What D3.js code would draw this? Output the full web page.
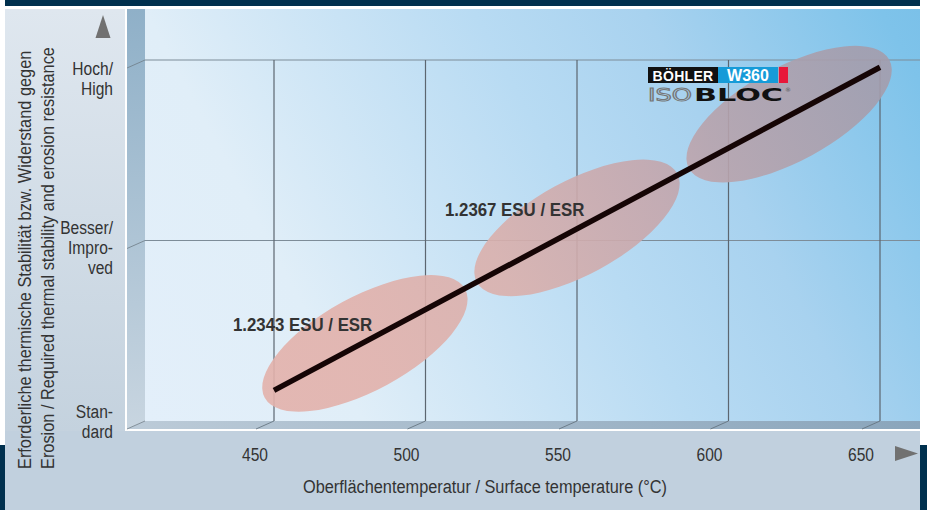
<!DOCTYPE html>
<html><head><meta charset="utf-8">
<script src="https://cdn.jsdelivr.net/npm/d3@7"></script>
<style>
body{margin:0;background:#fff;}
svg{display:block;}
</style></head>
<body>
<svg id="chart" width="927" height="510"></svg>
<script>
// ---------- data ----------
const xTicks = [450, 500, 550, 600, 650];
const yLevels = [0, 1, 2];
const yTickLabels = [["Stan-", "dard"], ["Besser/", "Impro-", "ved"], ["Hoch/", "High"]];
const grades = ["1.2343 ESU / ESR", "1.2367 ESU / ESR", "BÖHLER W360 ISOBLOC"];
const gradeTemp = [480, 550, 620];
const gradeLevel = [0.43, 1.07, 1.70];
const lineTemp = [450, 650];
const lineLevel = [0.17, 1.96];
const xTitle = "Oberflächentemperatur / Surface temperature (°C)";
const yTitle = ["Erforderliche thermische Stabilität bzw. Widerstand gegen",
                "Erosion / Required thermal stability and erosion resistance"];

// ---------- layout ----------
const svg = d3.select("#chart");
const wall = {x0: 145, x1: 920, y0: 9, y1: 421};
const depth = {dx: -18, dy: 8};
const x = d3.scaleLinear().domain([450, 650]).range([274, 880]);
const y = d3.scaleLinear().domain([0, 2]).range([421, 60]);
const navy = "#00304e";
const FONT = "'Liberation Sans', Arial, sans-serif";

function grad(id, stops, attrs) {
  const g = defs.append("linearGradient").attr("id", id);
  Object.entries(attrs).forEach(([k, v]) => g.attr(k, v));
  stops.forEach(s => g.append("stop").attr("offset", s[0]).attr("stop-color", s[1]));
}
function cText(parent, px, py, str, anchor, rot, sx) {
  return parent.append("text")
    .attr("transform", `translate(${px},${py})${rot ? ` rotate(${rot})` : ""} scale(${sx || 0.82},1)`)
    .attr("text-anchor", anchor || "start").attr("font-family", FONT)
    .attr("font-size", 19).attr("fill", "#333").text(str);
}
function ellipsePath(cx, cy, a, b, deg) {
  const r = deg * Math.PI / 180, ux = a * Math.cos(r), uy = a * Math.sin(r);
  return `M${cx - ux},${cy - uy}A${a},${b} ${deg} 1 0 ${cx + ux},${cy + uy}A${a},${b} ${deg} 1 0 ${cx - ux},${cy - uy}Z`;
}

const defs = svg.append("defs");
const diag = {gradientUnits: "userSpaceOnUse", x1: wall.x0, y1: wall.y1, x2: wall.x1, y2: wall.y0};
grad("gWall", [[0, "#e3effa"], [0.22, "#e0eef8"], [0.55, "#b8dbf3"], [0.72, "#a8d2ef"], [0.96, "#7ec3ea"], [1, "#7bc1e9"]], diag);
grad("gEll", [[0, "#e4b2ab"], [0.26, "#e2b1ab"], [0.44, "#dab0ac"], [0.64, "#c5a7ad"], [0.72, "#b8a3ac"], [0.91, "#a59dac"], [1, "#a29cac"]], diag);
grad("gLeft", [[0, "#dfe7ef"], [1, "#bfcedb"]], {x1: 0, y1: 0, x2: 0, y2: 1});
grad("gSide", [[0, "#8fb0c8"], [1, "#c8d5e0"]], {x1: 0, y1: 0, x2: 0, y2: 1});
grad("gFloor", [[0, "#bccbd8"], [1, "#8aa5bb"]], {x1: 0, y1: 0, x2: 1, y2: 0});

// frame panels
svg.append("rect").attr("x", 5).attr("y", 0).attr("width", 915).attr("height", 6).attr("fill", navy);
svg.append("rect").attr("x", 5).attr("y", 9).attr("width", 120).attr("height", 501).attr("fill", "url(#gLeft)");
svg.append("rect").attr("x", 5).attr("y", 431).attr("width", 915).attr("height", 79).attr("fill", "#c1d0de");
svg.append("rect").attr("x", 0).attr("y", 445).attr("width", 5).attr("height", 65).attr("fill", navy);
svg.append("rect").attr("x", 920).attr("y", 445).attr("width", 7).attr("height", 65).attr("fill", navy);

// walls
svg.append("rect").attr("x", wall.x0).attr("y", wall.y0).attr("width", wall.x1 - wall.x0).attr("height", wall.y1 - wall.y0).attr("fill", "url(#gWall)");
svg.append("polygon").attr("points", [[wall.x0 + depth.dx, wall.y0], [wall.x0, wall.y0], [wall.x0, wall.y1], [wall.x0 + depth.dx, wall.y1 + depth.dy]].join(" ")).attr("fill", "url(#gSide)");
svg.append("polygon").attr("points", [[wall.x0, wall.y1], [wall.x1, wall.y1], [wall.x1, wall.y1 + depth.dy], [wall.x0 + depth.dx, wall.y1 + depth.dy]].join(" ")).attr("fill", "url(#gFloor)");

// grid
const grid = svg.append("g");
yLevels.filter(v => v > 0).forEach(v => {
  grid.append("line").attr("x1", wall.x0).attr("x2", wall.x1).attr("y1", y(v)).attr("y2", y(v)).attr("stroke", "#7d8c98").attr("stroke-width", 1);
  grid.append("line").attr("x1", wall.x0).attr("x2", wall.x0 + depth.dx).attr("y1", y(v)).attr("y2", y(v) + depth.dy).attr("stroke", "#6f7c86").attr("stroke-width", 0.8);
});
grid.append("line").attr("x1", wall.x0).attr("x2", wall.x0 + depth.dx).attr("y1", wall.y1).attr("y2", wall.y1 + depth.dy).attr("stroke", "#6f7c86").attr("stroke-width", 0.8);
xTicks.forEach(t => {
  grid.append("line").attr("x1", x(t)).attr("x2", x(t)).attr("y1", y(2)).attr("y2", wall.y1).attr("stroke", "#5c6670").attr("stroke-width", 1.2);
  grid.append("line").attr("x1", x(t)).attr("x2", x(t) + depth.dx).attr("y1", wall.y1).attr("y2", wall.y1 + depth.dy).attr("stroke", "#5f6e7a").attr("stroke-width", 0.8);
});

// ellipses
svg.append("g").selectAll("path").data(grades).join("path")
  .attr("d", (d, i) => ellipsePath(x(gradeTemp[i]), y(gradeLevel[i]), 114, 47, -28.5))
  .attr("fill", "url(#gEll)").attr("opacity", 0.9);

// trend line
svg.append("path")
  .attr("d", d3.line().x(d => x(d[0])).y(d => y(d[1]))(lineTemp.map((t, i) => [t, lineLevel[i]])))
  .attr("stroke", "#150505").attr("stroke-width", 5.5).attr("fill", "none");

// grade labels
svg.append("g").selectAll("text").data(grades.slice(0, 2)).join("text")
  .attr("transform", (d, i) => `translate(${x(gradeTemp[i]) - 132},${y(gradeLevel[i]) - 12}) scale(0.91,1)`)
  .attr("font-family", FONT).attr("font-weight", "bold")
  .attr("font-size", 18.5).attr("fill", "#333").text(d => d);

// logo for third grade
const logo = svg.append("g").attr("transform", "translate(648,67)");
logo.append("rect").attr("x", 0).attr("y", 0).attr("width", 70).attr("height", 16).attr("fill", "#111");
logo.append("rect").attr("x", 70).attr("y", 0).attr("width", 60).attr("height", 16).attr("fill", "#169bd8");
logo.append("rect").attr("x", 131).attr("y", 0).attr("width", 9).attr("height", 16).attr("fill", "#e8173a");
logo.append("text").attr("x", 35).attr("y", 13.5).attr("text-anchor", "middle").attr("font-family", FONT)
  .attr("font-weight", "bold").attr("font-size", 14).attr("fill", "#fff").attr("letter-spacing", 0.3).text("BÖHLER");
logo.append("text").attr("x", 100).attr("y", 14).attr("text-anchor", "middle").attr("font-family", FONT)
  .attr("font-weight", "bold").attr("font-size", 16).attr("fill", "#fff").text("W360");
logo.append("text").attr("x", 0).attr("y", 34).attr("font-family", "DejaVu Sans, sans-serif").attr("font-size", 17)
  .attr("fill", "none").attr("stroke", "#777").attr("stroke-width", 1)
  .attr("textLength", 44).attr("lengthAdjust", "spacingAndGlyphs").text("ISO");
logo.append("text").attr("x", 46).attr("y", 34).attr("font-family", "DejaVu Sans, sans-serif").attr("font-weight", "bold").attr("font-size", 17)
  .attr("fill", "#111").attr("textLength", 89).attr("lengthAdjust", "spacingAndGlyphs").text("BLOC");
logo.append("text").attr("x", 137).attr("y", 25).attr("font-family", "DejaVu Sans, sans-serif").attr("font-size", 6).attr("fill", "#555").text("®");

// x tick labels and title
const xl = svg.append("g");
xTicks.forEach(t => cText(xl, x(t) + depth.dx - 1, 461, t, "middle"));
cText(svg, 485, 493, xTitle, "middle", 0, 0.86);

// y tick labels
const yBase = {0: 418, 1: 234, 2: 75};
const yl = svg.append("g");
yLevels.forEach(v => yTickLabels[v].forEach((s, k) => cText(yl, 113, yBase[v] + k * 20, s, "end")));

// y title
yTitle.forEach((s, k) => cText(svg, 31 + k * 23, 469, s, "start", -90, 0.86));

// arrows
svg.append("path").attr("d", d3.line()([[103, 15], [110.5, 38], [95.5, 38]]) + "Z").attr("fill", "#717171");
svg.append("path").attr("d", d3.line()([[895, 446], [918, 453.5], [895, 461]]) + "Z").attr("fill", "#717171");
</script>
</body></html>
